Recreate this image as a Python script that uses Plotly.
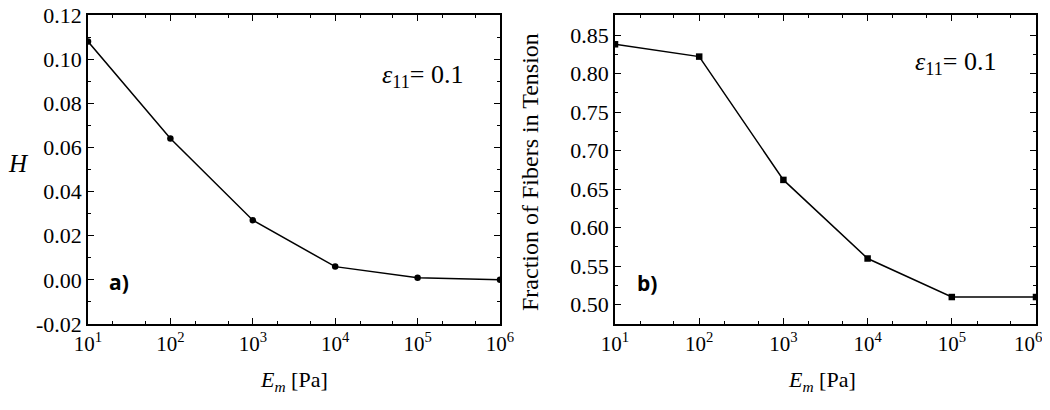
import plotly.graph_objects as go
from plotly.subplots import make_subplots

# data
modulus = [10, 100, 1000, 10000, 100000, 1000000]
h_values = [0.108, 0.064, 0.027, 0.006, 0.001, 0.0]
fraction_tension = [0.838, 0.822, 0.662, 0.560, 0.510, 0.510]

decade_vals = [10, 100, 1000, 10000, 100000, 1000000]
decade_text = ["10<sup>%d</sup>" % i for i in range(1, 7)]
# last label of the right panel is pushed left so it stays inside the window
decade_text_right = decade_text[:-1] + [decade_text[-1] + "\u00a0\u00a0\u00a0"]
h_ticks = [-0.02, 0.0, 0.02, 0.04, 0.06, 0.08, 0.10, 0.12]
h_ticktext = ["%.2f" % v if v >= 0 else "-%.2f" % abs(v) for v in h_ticks]

SERIF = "Liberation Serif"
# the page body has an 8px margin, so the figure is drawn 8px in from the window edge
OFF = 8
W, H = 1050 - OFF, 410 - OFF


def px(x):
    return (x - OFF) / W


def py(y):
    return 1 - (y - OFF) / H


fig = make_subplots(rows=1, cols=2)

fig.add_trace(go.Scatter(
    x=modulus, y=h_values, mode="lines+markers",
    line=dict(color="black", width=1.5),
    marker=dict(symbol="circle", size=6.5, color="black"),
    showlegend=False,
), row=1, col=1)

fig.add_trace(go.Scatter(
    x=modulus, y=fraction_tension, mode="lines+markers",
    line=dict(color="black", width=1.5),
    marker=dict(symbol="square", size=6.5, color="black"),
    showlegend=False,
), row=1, col=2)

fig.update_layout(
    width=W, height=H,
    paper_bgcolor="white", plot_bgcolor="white",
    margin=dict(l=0, r=0, t=0, b=0),
    font=dict(family=SERIF, color="black"),
)

fig.update_xaxes(
    type="log", range=[1, 6], automargin=False, ticklabeloverflow="allow",
    tickvals=decade_vals, ticktext=decade_text,
    ticks="inside", ticklen=6, tickwidth=1.2, tickcolor="black",
    minor=dict(ticks="inside", ticklen=3, tickwidth=1, tickcolor="black", showgrid=False),
    showline=True, linecolor="black", linewidth=1.5, mirror="allticks",
    showgrid=False, zeroline=False,
    tickfont=dict(family=SERIF, size=21, color="black"),
)
fig.update_yaxes(
    automargin=False, ticklabeloverflow="allow",
    ticks="inside", ticklen=6, tickwidth=1.2, tickcolor="black",
    showline=True, linecolor="black", linewidth=1.5, mirror="allticks",
    showgrid=False, zeroline=False,
    tickfont=dict(family=SERIF, size=22, color="black"),
)
y_dom = [py(324), py(15)]
fig.update_xaxes(domain=[px(88), px(500)], row=1, col=1)
fig.update_xaxes(domain=[px(615), px(1036)], ticktext=decade_text_right, row=1, col=2)
fig.update_yaxes(
    domain=y_dom, range=[-0.02, 0.12001],
    tickvals=h_ticks, ticktext=h_ticktext,
    minor=dict(ticks="inside", ticklen=3, tickwidth=1, tickcolor="black",
               tick0=-0.01, dtick=0.02, showgrid=False),
    row=1, col=1,
)
fig.update_yaxes(
    domain=y_dom, range=[0.475, 0.876],
    tick0=0.5, dtick=0.05, tickformat=".2f",
    minor=dict(ticks="inside", ticklen=3, tickwidth=1, tickcolor="black",
               tick0=0.475, dtick=0.05, showgrid=False),
    row=1, col=2,
)

ann_font = dict(family=SERIF, size=22, color="black")
eps_font = dict(family=SERIF, size=26, color="black")
letter_font = dict(family="Open Sans", size=21, color="black")
annotations = [
    # y titles
    dict(x=px(18), y=py(163), text="<i>H</i>", font=dict(family=SERIF, size=25, color="black")),
    dict(x=px(530), y=py(172), text="Fraction of Fibers in Tension",
         textangle=-90, font=dict(family=SERIF, size=24, color="black")),
    # x titles
    dict(x=px(294), y=py(381), text="<i>E</i><sub><i>m</i></sub> [Pa]", font=ann_font),
    dict(x=px(822), y=py(381), text="<i>E</i><sub><i>m</i></sub> [Pa]", font=ann_font),
    # strain labels
    dict(x=px(422), y=py(76), text="<i>ε</i><sub>11</sub>= 0.1", font=eps_font),
    dict(x=px(955), y=py(63), text="<i>ε</i><sub>11</sub>= 0.1", font=eps_font),
    # panel letters
    dict(x=px(119), y=py(282), text="<b>a)</b>", font=letter_font),
    dict(x=px(647), y=py(283), text="<b>b)</b>", font=letter_font),
]
for a in annotations:
    a.update(xref="paper", yref="paper", showarrow=False, xanchor="center", yanchor="middle")
fig.update_layout(annotations=annotations)

fig.write_html("out.html")
